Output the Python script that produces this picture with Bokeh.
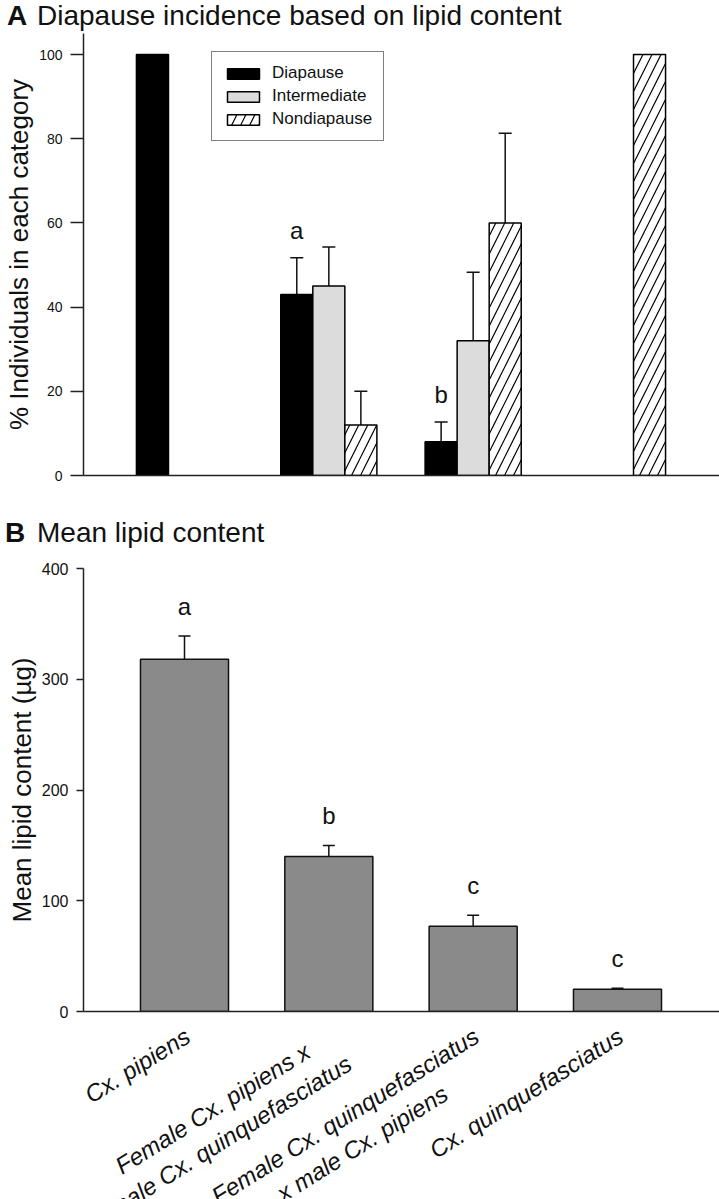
import math
import numpy as np
from bokeh.plotting import figure
from bokeh.models import (Legend, LegendItem, Whisker, TeeHead, Div,
                          ColumnDataSource, FixedTicker, Range1d)
from bokeh.layouts import column
from bokeh.embed import file_html
from bokeh.resources import INLINE
from bokeh.core.properties import value

# ---------------- data ----------------
groups = ["Cx. pipiens",
          "Female Cx. pipiens x\nmale Cx. quinquefasciatus",
          "Female Cx. quinquefasciatus\nx male Cx. pipiens",
          "Cx. quinquefasciatus"]
series = ["Diapause", "Intermediate", "Nondiapause"]
diapause = [100, 43, 8, 0]
diapause_err = [0, 8.7, 4.7, 0]
intermediate = [0, 45, 32, 0]
intermediate_err = [0, 9.3, 16.3, 0]
nondiapause = [0, 12, 60, 100]
nondiapause_err = [0, 8, 21.3, 0]
top_letters = ["", "a", "b", ""]          # above the Diapause bars
lipid_mean = [318, 140, 77, 20]
lipid_err = [21, 10, 10, 1]
lipid_letters = ["a", "b", "c", "c"]
yticks_top = [0, 20, 40, 60, 80, 100]
yticks_bottom = [0, 100, 200, 300, 400]
title_a = ("A", "Diapause incidence based on lipid content")
title_b = ("B", "Mean lipid content")

FONT = "Liberation Sans"
INK = "#111111"
W_PAGE = 719
LEFT = 83
xs = np.arange(1, len(groups) + 1, dtype=float)
PX_PER_UNIT = 144.33
XR = (1 - (184 - LEFT) / PX_PER_UNIT, 1 + (W_PAGE - 184) / PX_PER_UNIT)


def style_axes(p, ticks, tick_len, tick_fs):
    p.xgrid.grid_line_color = None
    p.ygrid.grid_line_color = None
    p.outline_line_color = None
    for ax in (p.xaxis, p.yaxis):
        ax.axis_line_width = 1.5
        ax.axis_line_color = "#222222"
        ax.major_tick_line_width = 1.5
        ax.major_tick_line_color = "#222222"
        ax.minor_tick_line_color = None
        ax.major_tick_in = 0
        ax.major_tick_out = tick_len
        ax.major_label_text_font = FONT
        ax.major_label_text_font_size = tick_fs
        ax.major_label_text_color = INK
        ax.major_label_standoff = 8
        ax.axis_label_text_font = FONT
        ax.axis_label_text_font_style = "normal"
        ax.axis_label_text_font_size = "26px"
        ax.axis_label_text_color = INK
        ax.axis_label_standoff = 2
    p.yaxis.ticker = FixedTicker(ticks=ticks)
    p.xaxis.ticker = FixedTicker(ticks=[])
    p.xaxis.major_label_text_font_size = "0px"
    p.xaxis.major_tick_line_color = None


def title_div(h, pad_top, pad_left, parts, lead_w):
    html = (f'<div style="font-family:\'{FONT}\',Arial,sans-serif;font-size:28px;'
            f'line-height:28px;color:{INK};padding:{pad_top}px 0 0 {pad_left}px;'
            f'white-space:nowrap;margin:0">'
            f'<span style="font-weight:bold;display:inline-block;width:{lead_w}px">'
            f'{parts[0]}</span>{parts[1]}</div>')
    return Div(text=html, width=W_PAGE, height=h, margin=(0, 0, 0, 0),
               styles={"margin": "0", "padding": "0", "overflow": "visible"})


# ---------------- panel A ----------------
t1 = title_div(33, 2, 7, title_a, 30)

p1 = figure(width=W_PAGE, height=465, x_range=Range1d(*XR), y_range=Range1d(0, 105),
            output_backend="svg", toolbar_location=None,
            min_border_left=LEFT, min_border_right=0, min_border_top=0,
            min_border_bottom=23)
style_axes(p1, yticks_top, 13, "14px")
p1.yaxis.axis_label = "% Individuals in each category"

bw = 0.222
offsets = [-bw, 0.0, bw]
styles = [
    dict(fill_color="black", line_color="black"),
    dict(fill_color="#dcdcdc", line_color="black"),
    dict(fill_color="white", line_color="black", hatch_pattern="/",
         hatch_color="black", hatch_scale=18, hatch_weight=1.2),
]
vals_all = [diapause, intermediate, nondiapause]
errs_all = [diapause_err, intermediate_err, nondiapause_err]
renderers = []
for vals, errs, off, st in zip(vals_all, errs_all, offsets, styles):
    v = np.array(vals, float)
    e = np.array(errs, float)
    m = v > 0
    src = ColumnDataSource(dict(x=(xs + off)[m], top=v[m]))
    r = p1.vbar(x="x", top="top", width=bw, source=src, line_width=1.5, **st)
    renderers.append(r)
    me = e > 0
    esrc = ColumnDataSource(dict(x=(xs + off)[me], lo=v[me], up=(v + e)[me]))
    p1.add_layout(Whisker(base="x", lower="lo", upper="up", source=esrc,
                          dimension="height", line_width=1.5, line_color=INK,
                          lower_head=None,
                          upper_head=TeeHead(size=13, line_width=1.5, line_color=INK)))

d = np.array(diapause, float) + np.array(diapause_err, float)
lt = [(xs[i] + offsets[0], d[i] + 6.5, t) for i, t in enumerate(top_letters) if t]
p1.text(x=[a[0] for a in lt], y=[a[1] for a in lt], text=[a[2] for a in lt],
        text_align="center", text_baseline="alphabetic",
        text_font=value(FONT), text_font_size="24px", text_color=INK)

legend = Legend(items=[LegendItem(label=s, renderers=[r]) for s, r in zip(series, renderers)],
                location=(128, 334))
legend.border_line_color = "black"
legend.border_line_width = 1.5
legend.background_fill_color = "white"
legend.label_text_font = FONT
legend.label_text_font_size = "17px"
legend.label_text_color = INK
legend.glyph_width = 40
legend.glyph_height = 13
legend.label_standoff = 9
legend.padding = 11
legend.spacing = 3
legend.margin = 0
p1.add_layout(legend, "center")

# ---------------- panel B ----------------
t2 = title_div(60, 21, 5, title_b, 32)

P2_BOTTOM = 12
p2 = figure(width=W_PAGE, height=10 + 443 + P2_BOTTOM, x_range=Range1d(*XR),
            y_range=Range1d(0, 400), output_backend="svg", toolbar_location=None,
            min_border_left=LEFT, min_border_right=0, min_border_top=10,
            min_border_bottom=P2_BOTTOM)
style_axes(p2, yticks_bottom, 7, "16px")
p2.yaxis.axis_label = "Mean lipid content (µg)"

bsrc = ColumnDataSource(dict(x=xs, top=lipid_mean,
                             up=np.array(lipid_mean, float) + np.array(lipid_err, float)))
p2.vbar(x="x", top="top", width=0.61, source=bsrc, fill_color="#8a8a8a",
        line_color=INK, line_width=1.5)
p2.add_layout(Whisker(base="x", lower="top", upper="up", source=bsrc,
                      dimension="height", line_width=1.5, line_color=INK,
                      lower_head=None,
                      upper_head=TeeHead(size=12, line_width=1.5, line_color=INK)))
p2.text(x=xs, y=bsrc.data["up"] + 27, text=lipid_letters,
        text_align="center", text_baseline="alphabetic",
        text_font=value(FONT), text_font_size="24px", text_color=INK)

# rotated category labels (strip sharing panel B's x scale)
strip_h = 1199 - (33 + 465 + 60 + p2.height)
t3 = figure(width=W_PAGE, height=strip_h, x_range=p2.x_range,
            y_range=Range1d(-strip_h, 0), x_axis_type=None, y_axis_type=None,
            output_backend="svg", toolbar_location=None,
            min_border_left=LEFT, min_border_right=0, min_border_top=0,
            min_border_bottom=0)
t3.outline_line_color = None
t3.xgrid.grid_line_color = None
t3.ygrid.grid_line_color = None
CW = {'C': .722, 'x': .5, '.': .278, ' ': .278, 'p': .556, 'i': .222, 'e': .556,
      'n': .556, 's': .5, 'F': .611, 'm': .833, 'a': .556, 'l': .222, 'q': .556,
      'u': .556, 'f': .278, 'c': .5, 't': .278}
FS = 24
theta = math.radians(32)
gap_top = 1022 - (1199 - strip_h)
lx, ly, loff = [], [], []
for xi, g in zip(xs, groups):
    W = max(sum(CW.get(ch, .556) for ch in line) for line in g.split("\n")) * FS
    lx.append(xi)
    ly.append(-(gap_top + W / 2 * math.sin(theta)))
    loff.append(-4 - W / 2 * math.cos(theta))
t3.text(x=lx, y=ly, x_offset=loff, text=groups, angle=theta,
        text_align="center", text_baseline="top", text_font=value(FONT),
        text_font_size=f"{FS}px", text_font_style="italic", text_color=INK)

layout = column(t1, p1, t2, p2, t3)
open("out.html", "w").write(file_html(layout, INLINE))
